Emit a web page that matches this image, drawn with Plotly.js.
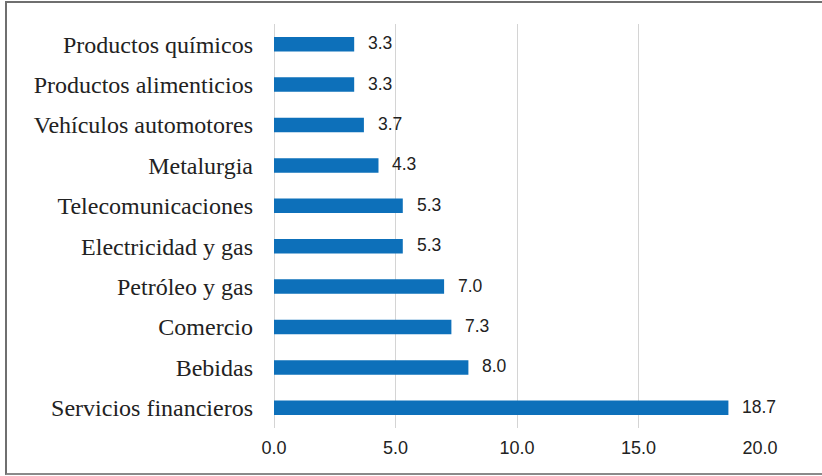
<!DOCTYPE html>
<html>
<head>
<meta charset="utf-8">
<script src="https://cdn.plot.ly/plotly-3.0.1.min.js"></script>
<style>
  html, body { margin: 0; padding: 0; background: #ffffff; }
  #frame { position: absolute; left: 0; top: 0; width: 822px; height: 476px; }
  #edge {
    position: absolute; left: 5px; top: 1px; width: 830px; height: 474px;
    box-sizing: border-box;
    border-left: 2px solid #6f6f6f; border-top: 2px solid #6f6f6f; border-bottom: 2px solid #8a8a8a;
    pointer-events: none;
  }
  #chart { position: absolute; left: 0; top: 0; width: 822px; height: 476px; }
</style>
</head>
<body>
<div id="frame">
  <div id="chart"></div>
  <div id="edge"></div>
</div>
<script>
// Sectors, listed bottom to top as drawn on the category axis
const sectores = [
  "Servicios financieros",
  "Bebidas",
  "Comercio",
  "Petróleo y gas",
  "Electricidad y gas",
  "Telecomunicaciones",
  "Metalurgia",
  "Vehículos automotores",
  "Productos alimenticios",
  "Productos químicos"
];
const valores = [18.7, 8.0, 7.3, 7.0, 5.3, 5.3, 4.3, 3.7, 3.3, 3.3];
const ticksX = [0, 5, 10, 15, 20];
const ticksXTexto = ["0.0", "5.0", "10.0", "15.0", "20.0"];

const trace = {
  type: "bar",
  orientation: "h",
  x: valores,
  y: sectores,
  width: 0.36,
  marker: { color: "#0d70ba" },
  hoverinfo: "none"
};

// Value labels to the right of each bar
const etiquetas = valores.map((v, i) => ({
  x: v, y: sectores[i], xref: "x", yref: "y",
  text: v.toFixed(1), showarrow: false,
  xanchor: "left", xshift: 12, yshift: 1,
  font: { family: "Liberation Sans, Arial, sans-serif", size: 17.5, color: "#222222" }
}));

const layout = {
  width: 822, height: 476,
  margin: { l: 274, r: 62, t: 24, b: 48 },
  paper_bgcolor: "rgba(0,0,0,0)",
  plot_bgcolor: "#ffffff",
  showlegend: false,
  xaxis: {
    range: [0, 20],
    tickvals: ticksX,
    ticktext: ticksXTexto,
    showgrid: true, gridcolor: "#d4d4d4", gridwidth: 1,
    zeroline: true, zerolinecolor: "#d4d4d4", zerolinewidth: 1,
    showline: false, ticks: "",
    ticklabelstandoff: 7,
    tickfont: { family: "Liberation Sans, Arial, sans-serif", size: 18, color: "#222222" },
    fixedrange: true
  },
  yaxis: {
    type: "category",
    categoryorder: "array", categoryarray: sectores,
    showgrid: false, zeroline: false, showline: false, ticks: "",
    ticklabelstandoff: 20,
    tickfont: { family: "Liberation Serif, Times New Roman, serif", size: 24, color: "#222222" },
    fixedrange: true
  },
  annotations: etiquetas
};

Plotly.newPlot("chart", [trace], layout, { staticPlot: true, displayModeBar: false });
</script>
</body>
</html>
